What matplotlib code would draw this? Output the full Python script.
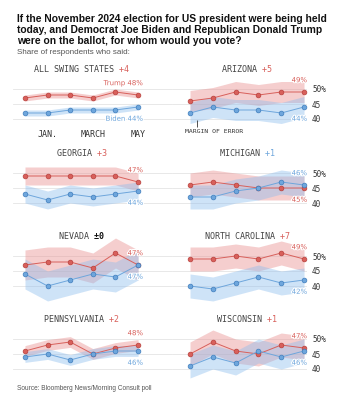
import numpy as np
import matplotlib.pyplot as plt
import matplotlib.patheffects as pe

# Monthly polls, Dec -> May
months = [0, 1, 2, 3, 4, 5]
month_ticks = [1, 3, 5]
month_labels = ["JAN.", "MARCH", "MAY"]

states = ["ALL SWING STATES", "ARIZONA", "GEORGIA", "MICHIGAN",
          "NEVADA", "NORTH CAROLINA", "PENNSYLVANIA", "WISCONSIN"]
leads = ["+4", "+5", "+3", "+1", "±0", "+7", "+2", "+1"]

trump = [
    [47, 48, 48, 47, 49, 48],
    [46, 47, 49, 48, 49, 49],
    [49, 49, 49, 49, 49, 47],
    [46, 47, 46, 45, 45, 45],
    [47, 48, 48, 46, 51, 47],
    [49, 49, 50, 49, 51, 49],
    [46, 48, 49, 45, 47, 48],
    [45, 49, 46, 45, 48, 47],
]
biden = [
    [42, 42, 43, 43, 43, 44],
    [42, 44, 43, 43, 42, 44],
    [43, 41, 43, 42, 43, 44],
    [42, 42, 44, 45, 47, 46],
    [44, 40, 42, 44, 43, 47],
    [40, 39, 41, 43, 41, 42],
    [44, 45, 43, 45, 46, 46],
    [41, 44, 42, 46, 44, 46],
]
# margin of error, percentage points
moe = [1, 3.5, 3, 4, 5, 4, 1.8, 4]

RED = "#d8605b"
RED_DK = "#b8403c"
RED_BAND = "#e88c8c"
BLUE = "#6ea6dc"
BLUE_DK = "#3f7dbd"
BLUE_BAND = "#8cbdee"
GRID = "#e4e4e4"
MONO = "DejaVu Sans Mono"

W, H = 344, 400
row_y50 = [89, 173, 256, 339]   # pixel row of the 50% gridline


def add_panel(fig, col, row):
    y50 = row_y50[row]
    if col == 0:
        x0, x1, xl = 13, 172, (-0.53, 6.5)
    else:
        x0, x1, xl = 172, 307, (-0.79, 5.13)
    ax = fig.add_axes([x0 / W, 1 - (y50 + 45) / H, (x1 - x0) / W, 66 / H])
    ax.set_xlim(*xl)
    ax.set_ylim(35, 57)
    return ax


def main():
    fig = plt.figure(figsize=(W / 100, H / 100), dpi=100)

    fig.text(17 / W, 1 - 14 / H,
             "If the November 2024 election for US president were being held\n"
             "today, and Democrat Joe Biden and Republican Donald Trump\n"
             "were on the ballot, for whom would you vote?",
             fontsize=7.4, fontweight="bold", family="Liberation Sans",
             va="top", ha="left", linespacing=1.12, color="#111111")
    fig.text(17 / W, 1 - 52 / H, "Share of respondents who said:",
             fontsize=5.8, family="Liberation Sans", va="center", color="#555555")
    fig.text(17 / W, 1 - 388 / H, "Source: Bloomberg News/Morning Consult poll",
             fontsize=4.7, family="Liberation Sans", va="center", color="#555555")

    halo = [pe.withStroke(linewidth=1.5, foreground="white")]

    for i, name in enumerate(states):
        col, row = i % 2, i // 2
        ax = add_panel(fig, col, row)
        t = np.array(trump[i])
        b = np.array(biden[i])
        m = moe[i]

        ax.fill_between(months, t - m, t + m, color=RED_BAND, alpha=0.42, lw=0)
        ax.fill_between(months, b - m, b + m, color=BLUE_BAND, alpha=0.42, lw=0)
        ax.plot(months, t, color=RED, lw=0.7, marker="o", ms=3.4,
                mfc=RED, mec=RED_DK, mew=0.5, clip_on=False, zorder=3)
        ax.plot(months, b, color=BLUE, lw=0.7, marker="o", ms=3.4,
                mfc=BLUE, mec=BLUE_DK, mew=0.5, clip_on=False, zorder=3)

        # grid + axes cosmetics
        ax.set_yticks([40, 45, 50])
        ax.grid(axis="y", color=GRID, lw=0.6)
        ax.set_axisbelow(True)
        for s in ax.spines.values():
            s.set_visible(False)
        if col == 1:
            ax.yaxis.tick_right()
            ax.set_yticks([40, 45, 50], ["40", "45", "50%"])
            ax.tick_params(axis="y", length=0, pad=3.6, labelsize=5.5,
                           labelcolor="#333333")
            for lab in ax.get_yticklabels():
                lab.set_family(MONO)
        else:
            ax.tick_params(axis="y", length=0, labelleft=False)
        if i == 0:
            ax.set_xticks(month_ticks, month_labels)
            ax.tick_params(axis="x", length=0, pad=-3, labelsize=6,
                           labelcolor="#333333")
            for lab in ax.get_xticklabels():
                lab.set_family(MONO)
        else:
            ax.set_xticks([])

        # header: name in grey, lead coloured (mono font keeps alignment)
        blank = " " * (len(name) + 1) + leads[i]
        lead_col = RED if leads[i].startswith("+") else "#111111"
        if name == "MICHIGAN":
            lead_col = BLUE
        ax.text(2.5, 56.5, name + " " + " " * len(leads[i]), ha="center",
                va="center", family=MONO, fontsize=6, color="#444444")
        ax.text(2.5, 56.5, blank, ha="center", va="center", family=MONO,
                fontsize=6, color=lead_col,
                fontweight="bold" if lead_col == "#111111" else "normal")

        # end labels
        t_up = t[-1] >= b[-1]
        dx = 3.6 if col == 0 else 2.2
        if i == 0:
            tl, bl = "Trump %d%%" % t[-1], "Biden %d%%" % b[-1]
        else:
            tl, bl = "%d%%" % t[-1], "%d%%" % b[-1]
        ax.annotate(tl, (5, t[-1]), xytext=(dx, 8.5 if t_up else -8.5),
                    textcoords="offset points", ha="right", va="center",
                    fontsize=5, color=RED, path_effects=halo, zorder=4)
        ax.annotate(bl, (5, b[-1]), xytext=(dx, -8.5 if t_up else 8.5),
                    textcoords="offset points", ha="right", va="center",
                    fontsize=5, color=BLUE, path_effects=halo, zorder=4)

        if name == "ARIZONA":
            ax.vlines(0.3, 37.4, 39.8, color="#333333", lw=0.6)
            ax.text(-0.2, 35.7, "MARGIN OF ERROR", family=MONO, fontsize=4.6,
                    color="#333333", ha="left", va="center")

    fig.savefig("out.png", dpi=100)


if __name__ == "__main__":
    main()
